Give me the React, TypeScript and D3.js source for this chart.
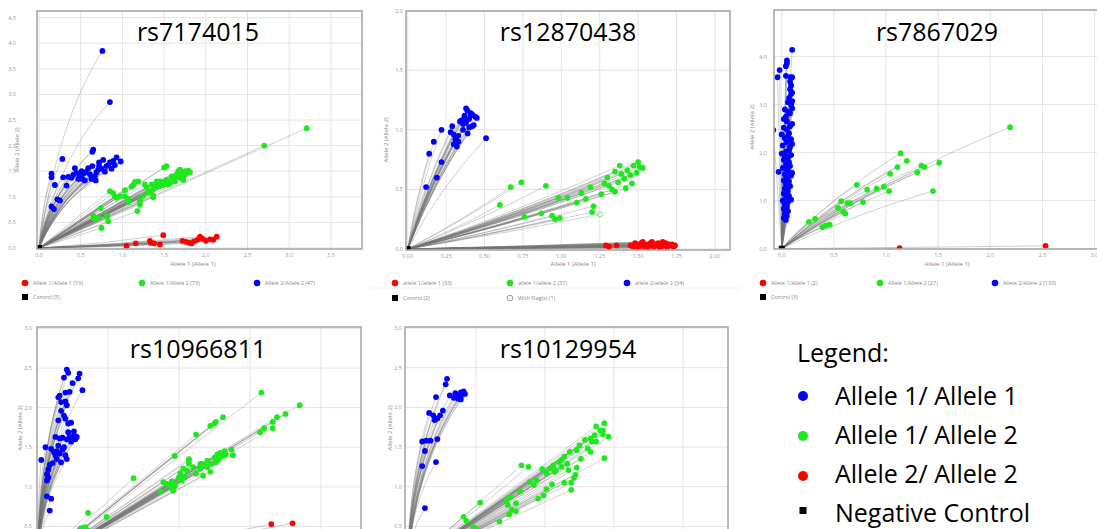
import React from 'react';
import * as d3 from 'd3';

type Pt = [number, number];

// ---- rs7174015 ----
const p1Red: Pt[] = [[1.05,0.04],[1.16,0.09],[1.33,0.14],[1.34,0.10],[1.38,0.09],[1.49,0.25],[1.45,0.07],[1.72,0.14],[1.76,0.12],[1.80,0.10],[1.86,0.13],[1.90,0.16],[1.93,0.22],[1.96,0.18],[2.00,0.14],[2.05,0.17],[2.09,0.16],[2.13,0.22],[1.83,0.09]];
const p1Green: Pt[] = [[2.70,2.00],[3.21,2.34],[1.50,1.57],[1.53,1.60],[0.75,0.39],[0.65,0.63],[0.66,0.58],[0.82,0.62],[0.83,0.52],[1.18,0.72],
  [0.89,1.07],[0.93,0.98],[1.03,1.13],[1.11,1.20],[1.15,1.29],[1.07,0.96],[1.07,0.90],[1.21,0.93],[1.25,1.02],[1.29,1.18],[1.35,1.11],[1.37,0.99],[1.41,1.20],[1.45,1.30],[1.49,1.23],[1.53,1.33],[1.57,1.27],[1.59,1.40],[1.63,1.30],[1.65,1.43],[1.69,1.37],[1.71,1.46],[1.73,1.40],[1.75,1.50],[1.77,1.46],[1.79,1.51],[1.81,1.48],[1.67,1.50],[1.61,1.33],[1.51,1.30],[1.39,1.18],[1.31,1.08],[1.27,1.24],[0.97,1.01],[0.85,1.11],[1.03,1.01],[1.41,1.30],[1.55,1.24],[1.73,1.33],[1.63,1.40],[1.45,1.21],[1.35,1.24],[1.19,1.30],[1.13,1.23],[0.91,1.01],[1.75,1.43],[1.69,1.53],[0.81,0.62],[0.71,0.59],[0.74,0.78],[1.21,0.85],[1.37,1.02]];
const p1Blue: Pt[] = [[0.76,3.85],[0.85,2.85],[0.28,1.74],[0.64,1.88],[0.65,1.92],[0.15,1.45],[0.15,1.38],[0.19,1.23],[0.22,0.95],[0.25,0.93],[0.15,0.81],[0.18,0.76],[0.33,1.22],[0.29,1.38],
  [0.35,1.39],[0.43,1.56],[0.52,1.35],[0.56,1.48],[0.64,1.60],[0.72,1.67],[0.77,1.72],[0.85,1.67],[0.93,1.77],[0.98,1.69],[0.89,1.70],[0.81,1.60],[0.71,1.53],[0.61,1.44],[0.55,1.32],[0.49,1.41],[0.45,1.47],[0.39,1.37],[0.51,1.50],[0.67,1.40],[0.69,1.48],[0.75,1.55],[0.79,1.49],[0.83,1.62],[0.91,1.62],[0.72,1.60],[0.59,1.56],[0.53,1.45],[0.47,1.35],[0.41,1.43],[0.63,1.35],[0.68,1.32],[0.87,1.55]];

// ---- rs12870438 ----
const p2Red: Pt[] = [[1.29,0.03],[1.31,0.02],[1.36,0.03],[1.45,0.03],[1.47,0.02],[1.49,0.04],[1.51,0.03],[1.52,0.05],[1.54,0.02],[1.55,0.04],[1.57,0.03],[1.58,0.05],[1.60,0.02],[1.61,0.04],[1.62,0.03],[1.63,0.05],[1.65,0.02],[1.66,0.04],[1.67,0.03],[1.68,0.05],[1.69,0.02],[1.70,0.04],[1.71,0.03],[1.72,0.04],[1.73,0.02],[1.74,0.03],[1.56,0.01],[1.59,0.06],[1.64,0.01],[1.50,0.01],[1.53,0.06],[1.48,0.05],[1.66,0.06]];
const p2Green: Pt[] = [[0.60,0.37],[0.67,0.52],[0.74,0.56],[0.76,0.27],[0.90,0.53],[0.96,0.25],[0.94,0.28],[0.99,0.26],[0.87,0.30],[0.98,0.43],[1.04,0.43],[1.13,0.47],[1.10,0.39],[1.16,0.42],[1.19,0.52],[1.21,0.36],[1.20,0.31],[1.26,0.46],[1.28,0.55],[1.30,0.60],[1.33,0.50],[1.35,0.48],[1.37,0.56],[1.39,0.63],[1.41,0.59],[1.43,0.66],[1.45,0.62],[1.47,0.70],[1.49,0.64],[1.51,0.69],[1.53,0.68],[1.46,0.55],[1.42,0.51],[1.35,0.65],[1.50,0.73],[1.38,0.70],[1.31,0.53]];
const p2Blue: Pt[] = [[0.38,1.18],[0.39,1.16],[0.51,0.93],[0.12,0.52],[0.14,0.80],[0.17,0.90],[0.22,1.00],[0.19,0.60],[0.22,0.73],[0.28,0.98],[0.29,1.03],[0.31,0.92],[0.30,0.88],[0.32,0.86],[0.33,0.95],[0.34,1.07],[0.36,1.05],[0.37,1.10],[0.38,1.06],[0.40,1.09],[0.41,1.12],[0.42,1.13],[0.44,1.11],[0.40,1.02],[0.42,1.03],[0.39,0.97],[0.36,1.00],[0.35,1.08],[0.30,0.96],[0.33,0.90],[0.43,1.04],[0.41,1.14],[0.37,1.12],[0.45,1.10]];
const p2Flagged: Pt[] = [[1.25,0.29]];

// ---- rs7867029 ----
const p3Red: Pt[] = [[1.13,0.01],[2.53,0.06]];
const p3Green: Pt[] = [[2.19,2.53],[1.14,1.99],[1.20,1.83],[1.51,1.79],[1.34,1.73],[1.37,1.70],[1.11,1.70],[1.30,1.59],[1.04,1.56],[0.72,1.33],[0.82,1.23],[0.91,1.25],[0.98,1.29],[1.03,1.20],[1.45,1.20],[0.78,0.97],[0.57,0.99],[0.63,0.95],[0.66,0.95],[0.54,0.85],[0.59,0.77],[0.61,0.73],[0.26,0.56],[0.32,0.62],[0.39,0.45],[0.42,0.48],[0.46,0.50]];
const p3Blue: Pt[] = [[0.10,4.14],[0.05,3.92],[0.05,3.86],[0.04,3.80],[-0.02,3.72],[-0.04,3.57],[0.04,3.60],[0.08,3.57],[0.10,3.57],[0.08,3.48],[0.09,3.40],[0.08,3.32],[0.09,3.22],[0.07,3.14],[0.10,3.07],[0.09,3.00],[0.03,2.90],[0.06,2.85],[0.08,2.82],[0.04,2.75],[0.05,2.65],[0.10,2.60],[0.08,2.55],[0.02,2.52],[0.05,2.48],[-0.08,2.47],[0.00,2.38],[0.07,2.40],[0.03,2.30],[0.09,2.28],[0.05,2.22],[0.01,2.15],[0.08,2.12],[0.07,2.05],[0.04,2.02],[0.00,1.98],[0.09,1.95],[0.06,1.90],[0.02,1.85],[0.07,1.80],[0.04,1.75],[0.08,1.72],[0.01,1.68],[0.05,1.65],[-0.03,1.60],[0.07,1.60],[0.03,1.55],[0.09,1.52],[0.05,1.47],[0.02,1.42],[0.07,1.40],[0.04,1.35],[0.08,1.30],[0.03,1.25],[0.06,1.20],[0.02,1.15],[0.07,1.10],[0.04,1.05],[0.01,1.00],[0.06,0.97],[0.03,0.92],[0.05,0.88],[0.02,0.83],[0.06,0.78],[0.03,0.73],[0.05,0.68],[0.02,0.64],[0.04,0.60],[0.10,3.25],[0.06,3.05],[0.10,2.92],[0.02,2.70],[0.06,2.35],[0.10,2.18],[0.03,1.92],[0.10,1.58],[0.06,1.32],[0.09,1.02]];

// ---- rs10966811 ----
const p4Red: Pt[] = [[1.65,0.53],[1.80,0.54],[1.40,0.42],[1.96,0.43]];
const p4Green: Pt[] = [[1.58,2.19],[1.85,2.03],[1.75,1.92],[1.69,1.88],[1.66,1.82],[1.60,1.74],[1.66,1.74],[1.57,1.69],[1.31,1.88],[1.25,1.80],[1.26,1.82],[1.22,1.77],[1.12,1.66],[0.97,1.39],[0.68,1.11],[0.87,0.94],[0.95,1.07],[0.96,0.95],[0.97,1.01],[0.36,0.67],[0.49,0.62],[0.31,0.48],[0.34,0.49],[0.30,0.46],[0.36,0.45],
  [0.89,1.06],[0.93,1.02],[0.97,1.04],[1.00,1.12],[1.01,1.17],[1.03,1.23],[1.06,1.20],[1.07,1.35],[1.07,1.29],[1.10,1.25],[1.12,1.17],[1.15,1.23],[1.16,1.29],[1.17,1.14],[1.18,1.27],[1.20,1.33],[1.22,1.19],[1.23,1.29],[1.25,1.37],[1.26,1.31],[1.27,1.41],[1.28,1.35],[1.29,1.43],[1.31,1.39],[1.32,1.45],[1.33,1.41],[1.37,1.47],[1.38,1.40],[1.04,1.12],[1.02,1.08],[0.95,0.98],[1.15,1.29],[1.20,1.25],[1.07,1.33],[0.91,1.04]];
const p4Blue: Pt[] = [[0.21,2.48],[0.22,2.44],[0.30,2.43],[0.29,2.37],[0.19,2.38],[0.25,2.31],[0.32,2.22],[0.20,2.19],[0.23,2.20],[0.15,2.13],[0.16,2.15],[0.17,2.07],[0.21,2.03],[0.20,2.08],[0.17,1.96],[0.19,1.90],[0.20,1.86],[0.15,1.84],[0.22,1.80],[0.24,1.81],[0.13,1.63],[0.16,1.61],[0.18,1.62],[0.21,1.60],[0.23,1.63],[0.25,1.62],[0.26,1.65],[0.27,1.60],[0.28,1.63],[0.24,1.57],[0.22,1.69],[0.26,1.70],[0.06,1.50],[0.03,1.34],[0.10,1.48],[0.12,1.44],[0.14,1.45],[0.16,1.42],[0.18,1.47],[0.20,1.40],[0.19,1.50],[0.15,1.52],[0.13,1.40],[0.09,1.28],[0.08,1.22],[0.07,1.16],[0.07,1.08],[0.08,1.12],[0.07,0.88],[0.10,0.85],[0.09,0.70],[0.11,1.30],[0.21,1.35],[0.14,1.35],[0.17,1.31]];

// ---- rs10129954 ----
const p5Green: Pt[] = [[1.43,1.80],[1.37,1.76],[1.40,1.71],[1.42,1.66],[1.46,1.63],[1.36,1.65],[1.33,1.61],[1.34,1.57],[1.29,1.59],[1.25,1.52],[1.31,1.48],[1.33,1.44],[1.43,1.36],[1.23,1.46],[1.18,1.44],[1.14,1.38],[1.12,1.34],[1.10,1.31],[1.06,1.27],[1.04,1.23],[1.01,1.17],[0.98,1.22],[1.07,1.19],[1.12,1.25],[1.16,1.29],[1.23,1.24],[1.22,1.15],[1.21,1.11],[1.19,1.05],[1.14,1.05],[1.19,0.96],[1.05,1.03],[1.01,0.97],[0.99,0.89],[0.95,0.85],[0.88,1.25],[0.83,1.27],[0.89,1.06],[0.82,0.94],[0.75,0.87],[0.72,0.83],[0.73,0.77],[0.79,0.79],[0.76,0.71],[0.79,0.69],[0.74,0.65],[0.67,0.56],[0.53,0.80],[0.41,0.62],[0.43,0.57],[0.48,0.49],[0.94,1.08],[0.92,1.02],[1.08,1.21],[1.26,1.35],[1.17,1.21],[1.37,1.57],[1.42,1.71],[0.50,0.47]];
const p5Blue: Pt[] = [[0.29,2.36],[0.28,2.29],[0.21,2.13],[0.35,2.18],[0.38,2.13],[0.39,2.19],[0.40,2.16],[0.41,2.20],[0.42,2.17],[0.37,2.11],[0.36,2.15],[0.39,2.10],[0.16,1.93],[0.19,1.90],[0.24,1.90],[0.22,1.86],[0.20,1.84],[0.26,1.96],[0.11,1.57],[0.14,1.58],[0.17,1.58],[0.13,1.45],[0.11,1.26],[0.22,1.60],[0.21,1.31],[0.13,0.73],[0.31,2.15],[0.34,2.12]];

const control: Pt[] = [[0, 0]];

// tick values
const p1XTicks = [0, 0.5, 1, 1.5, 2, 2.5, 3, 3.5];
const p1YTicks = [0, 0.5, 1, 1.5, 2, 2.5, 3, 3.5, 4, 4.5];
const p2XTicks = [0, 0.25, 0.5, 0.75, 1, 1.25, 1.5, 1.75, 2];
const p2YTicks = [0, 0.5, 1, 1.5, 2];
const p3XTicks = [0, 0.5, 1, 1.5, 2, 2.5, 3];
const p3YTicks = [0, 1, 2, 3, 4];
const p45XGrid = [0.5, 1, 1.5, 2];
const p45YTicks = [0.5, 1, 1.5, 2, 2.5, 3];

const legendLabels = ['Allele 1/ Allele 1', 'Allele 1/ Allele 2', 'Allele 2/ Allele 2', 'Negative Control'];

const RED = '#ff0000';
const GREEN = '#1ee81e';
const BLUE = '#0000ff';
const FONT = "'Open Sans', sans-serif";

type Cluster = { pts: Pt[]; color: string; bend: Pt; open?: boolean };
type LegendItem = { x: number; y: number; kind: string; color: string; label: string };

type PanelCfg = {
  title: string;
  titleX: number;
  titleY: number;
  frame: { x0: number; x1: number; y0: number; y1: number };
  xDomain: Pt;
  yDomain: Pt;
  xTicks: number[];
  yTicks: number[];
  xLabels: boolean;
  xFmt: string;
  yFmt: string;
  yLabelX: number;
  yTitle: Pt;
  xTitle?: Pt;
  clusters: Cluster[];
  legend: LegendItem[];
};

const panels: PanelCfg[] = [
  {
    title: 'rs7174015', titleX: 198, titleY: 41,
    frame: { x0: 37, x1: 362, y0: 11, y1: 249 },
    xDomain: [-0.024, 3.873], yDomain: [-0.02, 4.63],
    xTicks: p1XTicks, yTicks: p1YTicks, xLabels: true, xFmt: '.1f', yFmt: '.1f',
    yLabelX: 16, yTitle: [19, 150], xTitle: [193, 266],
    clusters: [
      { pts: p1Red, color: RED, bend: [0.5, 0.3] },
      { pts: p1Green, color: GREEN, bend: [0.5, 0.5] },
      { pts: p1Blue, color: BLUE, bend: [0.3, 0.65] },
    ],
    legend: [
      { x: 25, y: 283, kind: 'dot', color: RED, label: 'Allele 1/Allele 1 (19)' },
      { x: 142, y: 283, kind: 'dot', color: GREEN, label: 'Allele 1/Allele 2 (73)' },
      { x: 257, y: 283, kind: 'dot', color: BLUE, label: 'Allele 2/Allele 2 (47)' },
      { x: 25, y: 297, kind: 'square', color: '#000', label: 'Control (5)' },
    ],
  },
  {
    title: 'rs12870438', titleX: 568, titleY: 41,
    frame: { x0: 406, x1: 730, y0: 11, y1: 250 },
    xDomain: [-0.011, 2.098], yDomain: [-0.008, 1.997],
    xTicks: p2XTicks, yTicks: p2YTicks, xLabels: true, xFmt: '.2f', yFmt: '.1f',
    yLabelX: 403, yTitle: [388, 140], xTitle: [573, 266],
    clusters: [
      { pts: p2Red, color: RED, bend: [0.5, 0.4] },
      { pts: p2Green, color: GREEN, bend: [0.52, 0.45] },
      { pts: p2Blue, color: BLUE, bend: [0.4, 0.55] },
      { pts: p2Flagged, color: GREEN, bend: [0.5, 0.45], open: true },
    ],
    legend: [
      { x: 395, y: 283, kind: 'dot', color: RED, label: 'allele 1/allele 1 (33)' },
      { x: 510, y: 283, kind: 'dot', color: GREEN, label: 'allele 1/allele 2 (37)' },
      { x: 627, y: 283, kind: 'dot', color: BLUE, label: 'allele 2/allele 2 (34)' },
      { x: 395, y: 298, kind: 'square', color: '#000', label: 'Control (2)' },
      { x: 510, y: 298, kind: 'open', color: '#999', label: 'With Flag(s) (1)' },
    ],
  },
  {
    title: 'rs7867029', titleX: 937, titleY: 41,
    frame: { x0: 774, x1: 1112, y0: 10, y1: 249 },
    xDomain: [-0.074, 3.167], yDomain: [-0.006, 4.97],
    xTicks: p3XTicks, yTicks: p3YTicks, xLabels: true, xFmt: '.1f', yFmt: '.1f',
    yLabelX: 767, yTitle: [754, 127], xTitle: [947, 266],
    clusters: [
      { pts: p3Red, color: RED, bend: [0.5, 0.45] },
      { pts: p3Green, color: GREEN, bend: [0.45, 0.58] },
      { pts: p3Blue, color: BLUE, bend: [0.5, 0.5] },
    ],
    legend: [
      { x: 763, y: 283, kind: 'dot', color: RED, label: 'Allele 1/Allele 1 (2)' },
      { x: 880, y: 283, kind: 'dot', color: GREEN, label: 'Allele 1/Allele 2 (27)' },
      { x: 995, y: 283, kind: 'dot', color: BLUE, label: 'Allele 2/Allele 2 (133)' },
      { x: 763, y: 297, kind: 'square', color: '#000', label: 'Control (3)' },
    ],
  },
  {
    title: 'rs10966811', titleX: 198, titleY: 358,
    frame: { x0: 37, x1: 361, y0: 327, y1: 575 },
    xDomain: [0, 2.282], yDomain: [-0.113, 3.018],
    xTicks: p45XGrid, yTicks: p45YTicks, xLabels: false, xFmt: '.1f', yFmt: '.1f',
    yLabelX: 32, yTitle: [22, 428],
    clusters: [
      { pts: p4Red, color: RED, bend: [0.5, 0.4] },
      { pts: p4Green, color: GREEN, bend: [0.5, 0.5] },
      { pts: p4Blue, color: BLUE, bend: [0.08, 0.6] },
    ],
    legend: [],
  },
  {
    title: 'rs10129954', titleX: 568, titleY: 358,
    frame: { x0: 405, x1: 728, y0: 327, y1: 575 },
    xDomain: [-0.0145, 2.326], yDomain: [-0.113, 3.013],
    xTicks: p45XGrid, yTicks: p45YTicks, xLabels: false, xFmt: '.1f', yFmt: '.1f',
    yLabelX: 402, yTitle: [392, 428],
    clusters: [
      { pts: p5Green, color: GREEN, bend: [0.5, 0.5] },
      { pts: p5Blue, color: BLUE, bend: [0.15, 0.6] },
    ],
    legend: [],
  },
];

const Panel = ({ cfg, id }: { cfg: PanelCfg; id: number }) => {
  const { frame } = cfg;
  const x = d3.scaleLinear().domain(cfg.xDomain).range([frame.x0, frame.x1]);
  const y = d3.scaleLinear().domain(cfg.yDomain).range([frame.y1, frame.y0]);
  const fx = d3.format(cfg.xFmt);
  const fy = d3.format(cfg.yFmt);

  // amplification trace from the origin to each call
  const trace = (p: Pt, bend: Pt) => {
    const path = d3.path();
    path.moveTo(x(0), y(0));
    path.quadraticCurveTo(x(p[0] * bend[0]), y(p[1] * bend[1]), x(p[0]), y(p[1]));
    return path.toString();
  };

  const clipId = `clip-${id}`;
  return (
    <g>
      <defs>
        <clipPath id={clipId}>
          <rect x={frame.x0} y={frame.y0} width={frame.x1 - frame.x0} height={frame.y1 - frame.y0} />
        </clipPath>
      </defs>
      {cfg.xTicks.map((t) => (
        <line key={'gx' + t} x1={x(t)} x2={x(t)} y1={frame.y0} y2={frame.y1} stroke="#e4e4e4" strokeWidth={1} />
      ))}
      {cfg.yTicks.map((t) => (
        <line key={'gy' + t} x1={frame.x0} x2={frame.x1} y1={y(t)} y2={y(t)} stroke="#e4e4e4" strokeWidth={1} />
      ))}
      <g clipPath={`url(#${clipId})`}>
        {cfg.clusters.map((c, ci) =>
          c.pts.map((p, i) => (
            <path key={`t${ci}-${i}`} d={trace(p, c.bend)} fill="none" stroke="#767676" strokeOpacity={0.42} strokeWidth={0.8} />
          ))
        )}
        {cfg.clusters.map((c, ci) =>
          c.pts.map((p, i) => (
            <circle key={`p${ci}-${i}`} cx={x(p[0])} cy={y(p[1])} r={c.open ? 2.6 : 2.9}
              fill={c.open ? 'none' : c.color} stroke={c.open ? '#7fd87f' : 'none'} strokeWidth={1} />
          ))
        )}
        {control.map((p, i) => (
          <rect key={'c' + i} x={x(p[0]) - 3} y={y(p[1]) - 3} width={6} height={6} fill="#000" />
        ))}
      </g>
      <rect x={frame.x0} y={frame.y0} width={frame.x1 - frame.x0} height={frame.y1 - frame.y0}
        fill="none" stroke="#a8a8a8" strokeWidth={1.6} />
      {cfg.yTicks.map((t) => (
        <text key={'ly' + t} x={cfg.yLabelX} y={y(t) + 2} textAnchor="end" fontSize={5.5} fill="#999" fontFamily={FONT}>{fy(t)}</text>
      ))}
      {cfg.xLabels && cfg.xTicks.map((t) => (
        <text key={'lx' + t} x={x(t)} y={frame.y1 + 8} textAnchor="middle" fontSize={5.5} fill="#999" fontFamily={FONT}>{fx(t)}</text>
      ))}
      <text transform={`translate(${cfg.yTitle[0]},${cfg.yTitle[1]}) rotate(-90)`} textAnchor="middle" fontSize={6}
        fill="#888" fontFamily={FONT}>Allele 2 (Allele 2)</text>
      {cfg.xTitle && (
        <text x={cfg.xTitle[0]} y={cfg.xTitle[1]} textAnchor="middle" fontSize={6} fill="#888" fontFamily={FONT}>Allele 1 (Allele 1)</text>
      )}
      {cfg.legend.map((l, i) => (
        <g key={'lg' + i}>
          {l.kind === 'dot' && <circle cx={l.x} cy={l.y} r={3.3} fill={l.color} />}
          {l.kind === 'square' && <rect x={l.x - 3} y={l.y - 3} width={6} height={6} fill={l.color} />}
          {l.kind === 'open' && <circle cx={l.x} cy={l.y} r={2.8} fill="none" stroke={l.color} strokeWidth={1} />}
          <text x={l.x + 8} y={l.y + 2} fontSize={5.5} fill="#8a8a8a" fontFamily={FONT}>{l.label}</text>
        </g>
      ))}
      <text x={cfg.titleX} y={cfg.titleY} textAnchor="middle" fontSize={25} fill="#000" fontFamily={FONT}>{cfg.title}</text>
    </g>
  );
};

const App = () => {
  const bulletColors = [BLUE, GREEN, RED];
  return (
    <svg width={1097} height={529} style={{ position: 'absolute', left: 0, top: 0, background: '#fff' }}>
      <rect x={0} y={0} width={1097} height={529} fill="#fff" />
      {panels.map((p, i) => (
        <Panel key={p.title} cfg={p} id={i} />
      ))}
      <line x1={370} x2={740} y1={288} y2={288} stroke="#eee" strokeWidth={1} />
      <text x={797} y={362} fontSize={25} fontFamily={FONT} fill="#000">Legend:</text>
      {legendLabels.map((lab, i) => (
        <g key={lab}>
          {i < 3 ? (
            <circle cx={803} cy={396 + i * 40} r={5} fill={bulletColors[i]} />
          ) : (
            <rect x={799.5} y={507} width={7} height={7} fill="#000" />
          )}
          <text x={835} y={405 + i * 39} fontSize={25} fontFamily={FONT} fill="#000">{lab}</text>
        </g>
      ))}
    </svg>
  );
};

export default App;
